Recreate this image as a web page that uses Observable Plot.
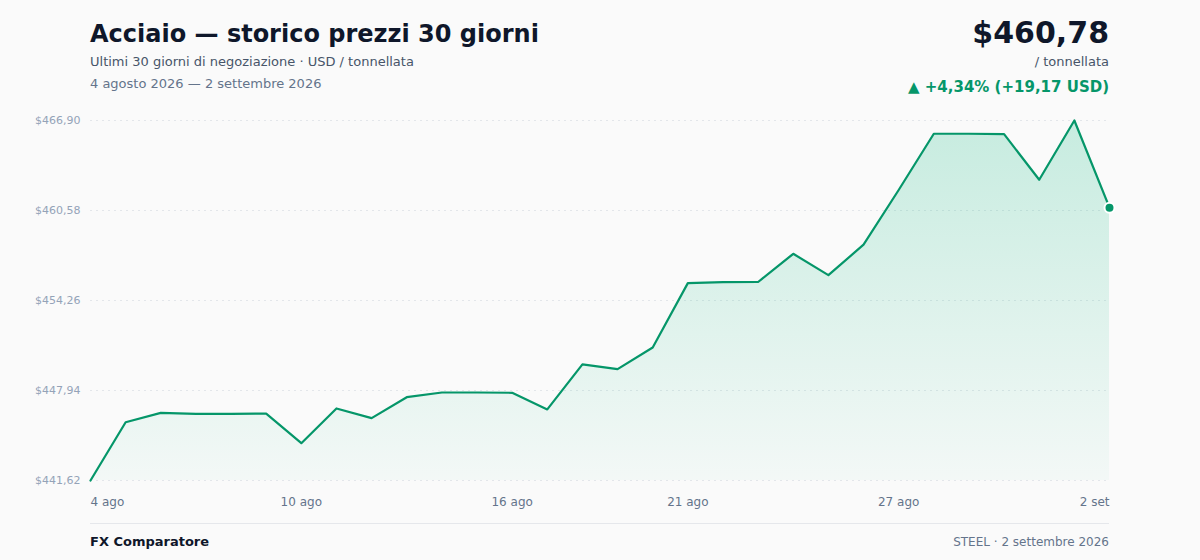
<!DOCTYPE html>
<html>
<head>
<meta charset="utf-8">
<script src="https://cdn.jsdelivr.net/npm/d3@7"></script>
<script src="https://cdn.jsdelivr.net/npm/@observablehq/plot@0.6"></script>
<style>
  html, body { margin:0; padding:0; background:#fafafa; }
  body { width:1200px; height:560px; position:relative; overflow:hidden; font-family:"DejaVu Sans", sans-serif; }
  .t { position:absolute; line-height:1; white-space:nowrap; }
  #chart { position:absolute; left:0; top:110px; }
  #rule { position:absolute; left:90px; width:1019px; top:523px; height:1px; background:#e5e7eb; }
</style>
</head>
<body>
<div class="t" style="left:90px; top:22px; font-size:24px; font-weight:bold; color:#0f172a;">Acciaio — storico prezzi 30 giorni</div>
<div class="t" style="left:90px; top:55px; font-size:13px; color:#475569;">Ultimi 30 giorni di negoziazione · USD / tonnellata</div>
<div class="t" style="left:90px; top:76.5px; font-size:13px; color:#64748b;">4 agosto 2026 — 2 settembre 2026</div>
<div class="t" style="right:91px; top:17.5px; font-size:30px; font-weight:bold; color:#0f172a;">$460,78</div>
<div class="t" style="right:91px; top:55px; font-size:13px; color:#475569;">/ tonnellata</div>
<div class="t" style="right:91px; top:79.5px; font-size:15px; font-weight:bold; color:#059669;">▲ +4,34% (+19,17 USD)</div>
<div id="chart"></div>
<div id="rule"></div>
<div class="t" style="left:90px; top:535px; font-size:13px; font-weight:bold; color:#0f172a;">FX Comparatore</div>
<div class="t" style="right:91px; top:535.5px; font-size:12px; color:#64748b;">STEEL · 2 settembre 2026</div>
<script>
const dates = [
  "2026-08-04","2026-08-05","2026-08-06","2026-08-07","2026-08-08","2026-08-09",
  "2026-08-10","2026-08-11","2026-08-12","2026-08-13","2026-08-14","2026-08-15",
  "2026-08-16","2026-08-17","2026-08-18","2026-08-19","2026-08-20","2026-08-21",
  "2026-08-22","2026-08-23","2026-08-24","2026-08-25","2026-08-26","2026-08-27",
  "2026-08-28","2026-08-29","2026-08-30","2026-08-31","2026-09-01","2026-09-02"
];
const prices = [
  441.62, 445.71, 446.37, 446.30, 446.30, 446.32,
  444.24, 446.68, 446.00, 447.47, 447.80, 447.80,
  447.78, 446.61, 449.77, 449.44, 450.96, 455.48,
  455.55, 455.56, 457.54, 456.04, 458.18, 462.02,
  465.97, 465.97, 465.94, 462.74, 466.90, 460.78
];
const yTicks = [441.62, 447.94, 454.26, 460.58, 466.90];
const xTickDates = ["2026-08-04","2026-08-10","2026-08-16","2026-08-21","2026-08-27","2026-09-02"];
const xTickLabels = ["4 ago","10 ago","16 ago","21 ago","27 ago","2 set"];

const parse = d3.utcParse("%Y-%m-%d");
const data = dates.map((d, i) => ({date: parse(d), price: prices[i]}));
const ticks = xTickDates.map((d, i) => ({date: parse(d), label: xTickLabels[i]}));
const yMin = yTicks[0], yMax = yTicks[yTicks.length - 1];
const fmtY = v => "$" + v.toFixed(2).replace(".", ",");
const last = data[data.length - 1];

const svg = Plot.plot({
  width: 1200,
  height: 410,
  marginLeft: 90,
  marginRight: 91,
  marginTop: 10,
  marginBottom: 40,
  style: {background: "transparent", fontFamily: "DejaVu Sans, sans-serif", overflow: "visible"},
  x: {type: "utc", domain: [data[0].date, last.date], axis: null},
  y: {domain: [yMin, yMax], axis: null},
  marks: [
    Plot.ruleY(yTicks, {stroke: "#e3e6ea", strokeWidth: 1, strokeDasharray: "2,4"}),
    Plot.areaY(data, {x: "date", y1: () => yMin, y2: "price", fill: "url(#areaGrad)"}),
    Plot.lineY(data, {x: "date", y: "price", stroke: "#059669", strokeWidth: 2.2, strokeLinejoin: "round"}),
    Plot.dot([last], {x: "date", y: "price", r: 5, fill: "#059669", stroke: "#ffffff", strokeWidth: 2}),
    Plot.text(yTicks, {x: () => data[0].date, y: d => d, text: fmtY, textAnchor: "end", dx: -10, fill: "#94a3b8", fontSize: 11}),
    Plot.text(ticks.slice(0, 1), {x: "date", y: () => yMin, text: "label", textAnchor: "start", dy: 21.5, fill: "#64748b", fontSize: 12}),
    Plot.text(ticks.slice(1, -1), {x: "date", y: () => yMin, text: "label", textAnchor: "middle", dy: 21.5, fill: "#64748b", fontSize: 12}),
    Plot.text(ticks.slice(-1), {x: "date", y: () => yMin, text: "label", textAnchor: "end", dy: 21.5, fill: "#64748b", fontSize: 12})
  ]
});

const defs = d3.select(svg).insert("defs", ":first-child");
const grad = defs.append("linearGradient").attr("id", "areaGrad").attr("x1", 0).attr("y1", 0).attr("x2", 0).attr("y2", 1);
grad.append("stop").attr("offset", "0%").attr("stop-color", "#10b981").attr("stop-opacity", 0.22);
grad.append("stop").attr("offset", "100%").attr("stop-color", "#10b981").attr("stop-opacity", 0.03);

document.getElementById("chart").appendChild(svg);
</script>
</body>
</html>
